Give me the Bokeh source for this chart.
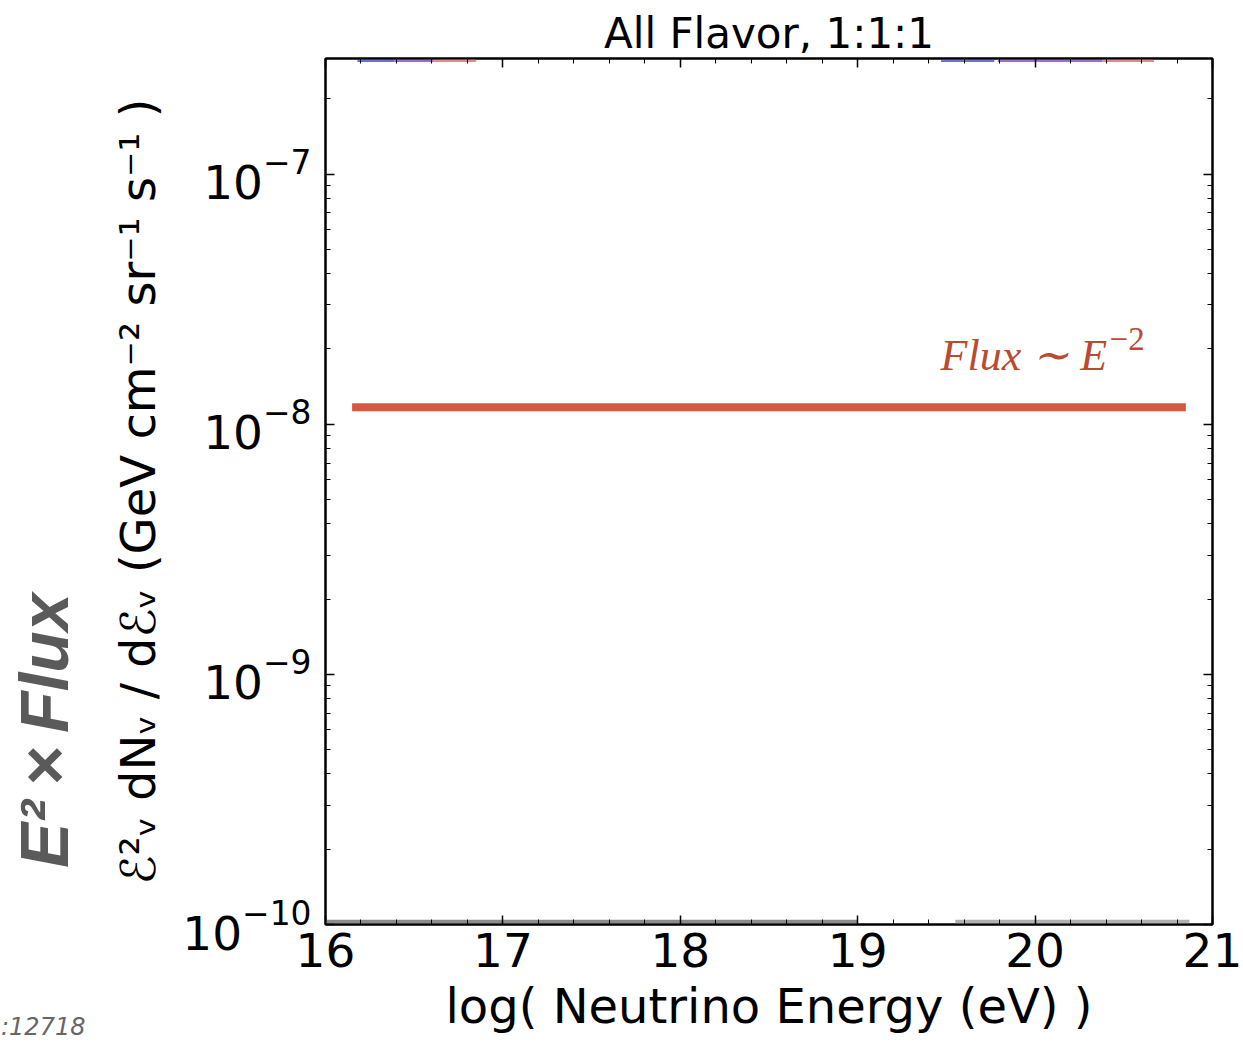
import math
from bokeh.plotting import figure
from bokeh.models import (Range1d, LinearAxis, LogAxis, SingleIntervalTicker, LogTicker, Label,
                          CustomJSTickFormatter, GridBox, Div)
from bokeh.embed import file_html
from bokeh.resources import INLINE

# ---- data ----
flux_x = [16.15, 20.85]
flux_y = [1.17e-8, 1.17e-8]

top_x0 = [16.18, 16.39, 16.61, 19.47, 19.79, 20.38]
top_x1 = [16.39, 16.61, 16.85, 19.77, 20.38, 20.67]
top_y = [2.85e-7] * 6
top_colors = ["#6f6fd8", "#9a70c4", "#e48a8a", "#6f6fd8", "#9a70c4", "#e48a8a"]

bot_x0 = [16.0, 19.55]
bot_x1 = [19.0, 20.87]
bot_y = [1.02e-10, 1.02e-10]
bot_colors = ["#8a8a8a", "#b0b0b0"]

side_text = "E²\u2009×\u2009Flux"
corner_text = ":12718"

FONT = "DejaVu Sans"
W, H = 1243, 1043

p = figure(width=W, height=H, y_axis_type="log",
           x_range=Range1d(16, 21), y_range=Range1d(1e-10, 2.9e-7),
           output_backend="svg", toolbar_location=None,
           min_border_left=325, min_border_right=31, min_border_top=58,
           min_border_bottom=119, title="All Flavor, 1:1:1")

p.title.align = "center"
p.title.text_font = FONT
p.title.text_font_size = "42px"
p.title.text_font_style = "normal"
p.title.text_color = "black"
p.title.standoff = 2

p.xgrid.visible = False
p.ygrid.visible = False
p.outline_line_color = "black"
p.outline_line_width = 2
p.background_fill_color = "white"
p.border_fill_color = "white"

def style_axis(ax, labels=True):
    ax.axis_line_color = "black"
    ax.axis_line_width = 2
    ax.major_tick_in = 9
    ax.major_tick_out = 0
    ax.minor_tick_in = 5
    ax.minor_tick_out = 0
    ax.major_tick_line_color = "black"
    ax.minor_tick_line_color = "black"
    ax.major_tick_line_width = 1.5
    ax.minor_tick_line_width = 1
    if labels:
        ax.major_label_text_font = FONT
        ax.major_label_text_font_size = "47px"
        ax.major_label_text_color = "black"
    else:
        ax.formatter = CustomJSTickFormatter(code="return ''")
        ax.major_label_standoff = 0

xa = p.xaxis[0]
xa.ticker = SingleIntervalTicker(interval=1, num_minor_ticks=5)
style_axis(xa)
xa.major_label_standoff = 8
xa.axis_label = "log( Neutrino Energy (eV) )"
xa.axis_label_text_font = FONT
xa.axis_label_text_font_size = "48px"
xa.axis_label_text_font_style = "normal"
xa.axis_label_text_color = "black"
xa.axis_label_standoff = 8

ya = p.yaxis[0]
ya.ticker = LogTicker(mantissas=[1], num_minor_ticks=10)
style_axis(ya)
ya.major_label_standoff = 14
ya.axis_label = "ℰ²ᵥ dNᵥ / dℰᵥ (GeV cm⁻² sr⁻¹ s⁻¹ )"
ya.axis_label_text_font = FONT
ya.axis_label_text_font_size = "48px"
ya.axis_label_text_font_style = "normal"
ya.axis_label_text_color = "black"
ya.axis_label_standoff = 13

ta = LinearAxis(ticker=SingleIntervalTicker(interval=1, num_minor_ticks=5))
style_axis(ta, labels=False)
p.add_layout(ta, "above")
ra = LogAxis(ticker=LogTicker(mantissas=[1], num_minor_ticks=10))
style_axis(ra, labels=False)
p.add_layout(ra, "right")

# data glyphs
p.segment(x0=top_x0, y0=top_y, x1=top_x1, y1=top_y, line_color=top_colors, line_width=3)
p.segment(x0=bot_x0, y0=bot_y, x1=bot_x1, y1=bot_y, line_color=bot_colors, line_width=5)
p.line(flux_x, flux_y, line_color="#d45a3e", line_width=8)

# annotations in the plot
p.add_layout(Label(x=19.467, y=10 ** (-7.724), text="Flux ∼ E", text_font="Liberation Serif",
                   text_font_style="italic", text_font_size="44px", text_color="#b94b32",
                   text_align="left", text_baseline="alphabetic"))
p.add_layout(Label(x=20.42, y=10 ** (-7.66), text="−2", text_font="Liberation Serif",
                   text_font_size="33px", text_color="#b94b32",
                   text_align="left", text_baseline="alphabetic"))

# transparent HTML overlay for the texts that sit outside the plot frame
overlay_html = (
    '<div style="position:relative;width:%dpx;height:%dpx;overflow:hidden;margin:0;padding:0">'
    '<span style="position:absolute;left:10px;top:868px;transform:rotate(-90deg);'
    'transform-origin:0 0;white-space:nowrap;font-family:\'Liberation Sans\';font-style:italic;'
    'font-weight:bold;font-size:68px;line-height:68px;color:#5a5a5a">%s</span>'
    '<span style="position:absolute;left:1px;top:1015px;white-space:nowrap;'
    'font-family:\'DejaVu Sans\';font-style:italic;font-size:24px;line-height:24px;'
    'color:#666666">%s</span></div>' % (W, H, side_text, corner_text)
)
overlay = Div(text=overlay_html, width=W, height=H, margin=0)

layout = GridBox(children=[(p, 0, 0), (overlay, 0, 0)])

open("out.html", "w").write(file_html(layout, INLINE))
